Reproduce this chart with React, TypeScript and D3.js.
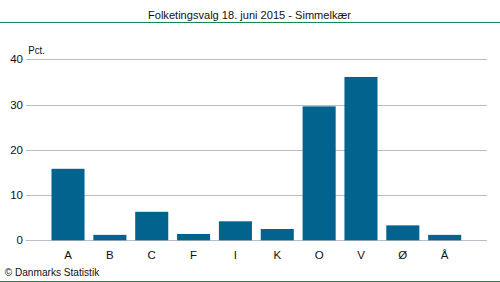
import React from "react";
import * as d3 from "d3";

const categories = ["A", "B", "C", "F", "I", "K", "O", "V", "Ø", "Å"];
const values = [15.8, 1.2, 6.3, 1.4, 4.2, 2.5, 29.6, 36.1, 3.3, 1.2];
const yTicks = [0, 10, 20, 30, 40];
const title = "Folketingsvalg 18. juni 2015 - Simmelkær";
const yLabel = "Pct.";
const source = "© Danmarks Statistik";

export default function App() {
  const W = 500, H = 282;
  const x = d3.scaleBand<string>().domain(categories).range([47.1, 465.6]).paddingInner(0.21).paddingOuter(0.105);
  const y = d3.scaleLinear().domain([0, 40]).range([240.3, 59.3]);
  const font = "'Liberation Sans', Arial, sans-serif";
  const fs = 11.5;
  return (
    <svg width={W} height={H} style={{ position: "absolute", left: 0, top: 0 }} fontFamily={font}>
      <rect width={W} height={H} fill="#fff" />
      <text x={249.5} y={19} textAnchor="middle" fontSize={fs} fill="#111" textLength={203} lengthAdjust="spacingAndGlyphs">{title}</text>
      <line x1={0} x2={W} y1={22.5} y2={22.5} stroke="#138a4a" strokeWidth={1} />
      {yTicks.map((t) => (
        <g key={t}>
          <line x1={26} x2={487} y1={Math.round(y(t)) + 0.5} y2={Math.round(y(t)) + 0.5} stroke="#bcbcc4" strokeWidth={1} />
          <text x={23} y={y(t) + 4} textAnchor="end" fontSize={fs} fill="#111">{t}</text>
        </g>
      ))}
      <text x={28.3} y={53.5} fontSize={fs} fill="#111" textLength={16.7} lengthAdjust="spacingAndGlyphs">{yLabel}</text>
      {categories.map((c, i) => (
        <g key={c}>
          <rect x={x(c)} y={y(values[i])} width={x.bandwidth()} height={y(0) - y(values[i])} fill="#03638f" />
          <text x={(x(c) as number) + x.bandwidth() / 2} y={259} textAnchor="middle" fontSize={fs} fill="#111">{c}</text>
        </g>
      ))}
      <text x={4.7} y={276} fontSize={fs} fill="#111" textLength={94.5} lengthAdjust="spacingAndGlyphs">{source}</text>
      <line x1={0} x2={W} y1={281.5} y2={281.5} stroke="#138a4a" strokeWidth={1} />
    </svg>
  );
}
